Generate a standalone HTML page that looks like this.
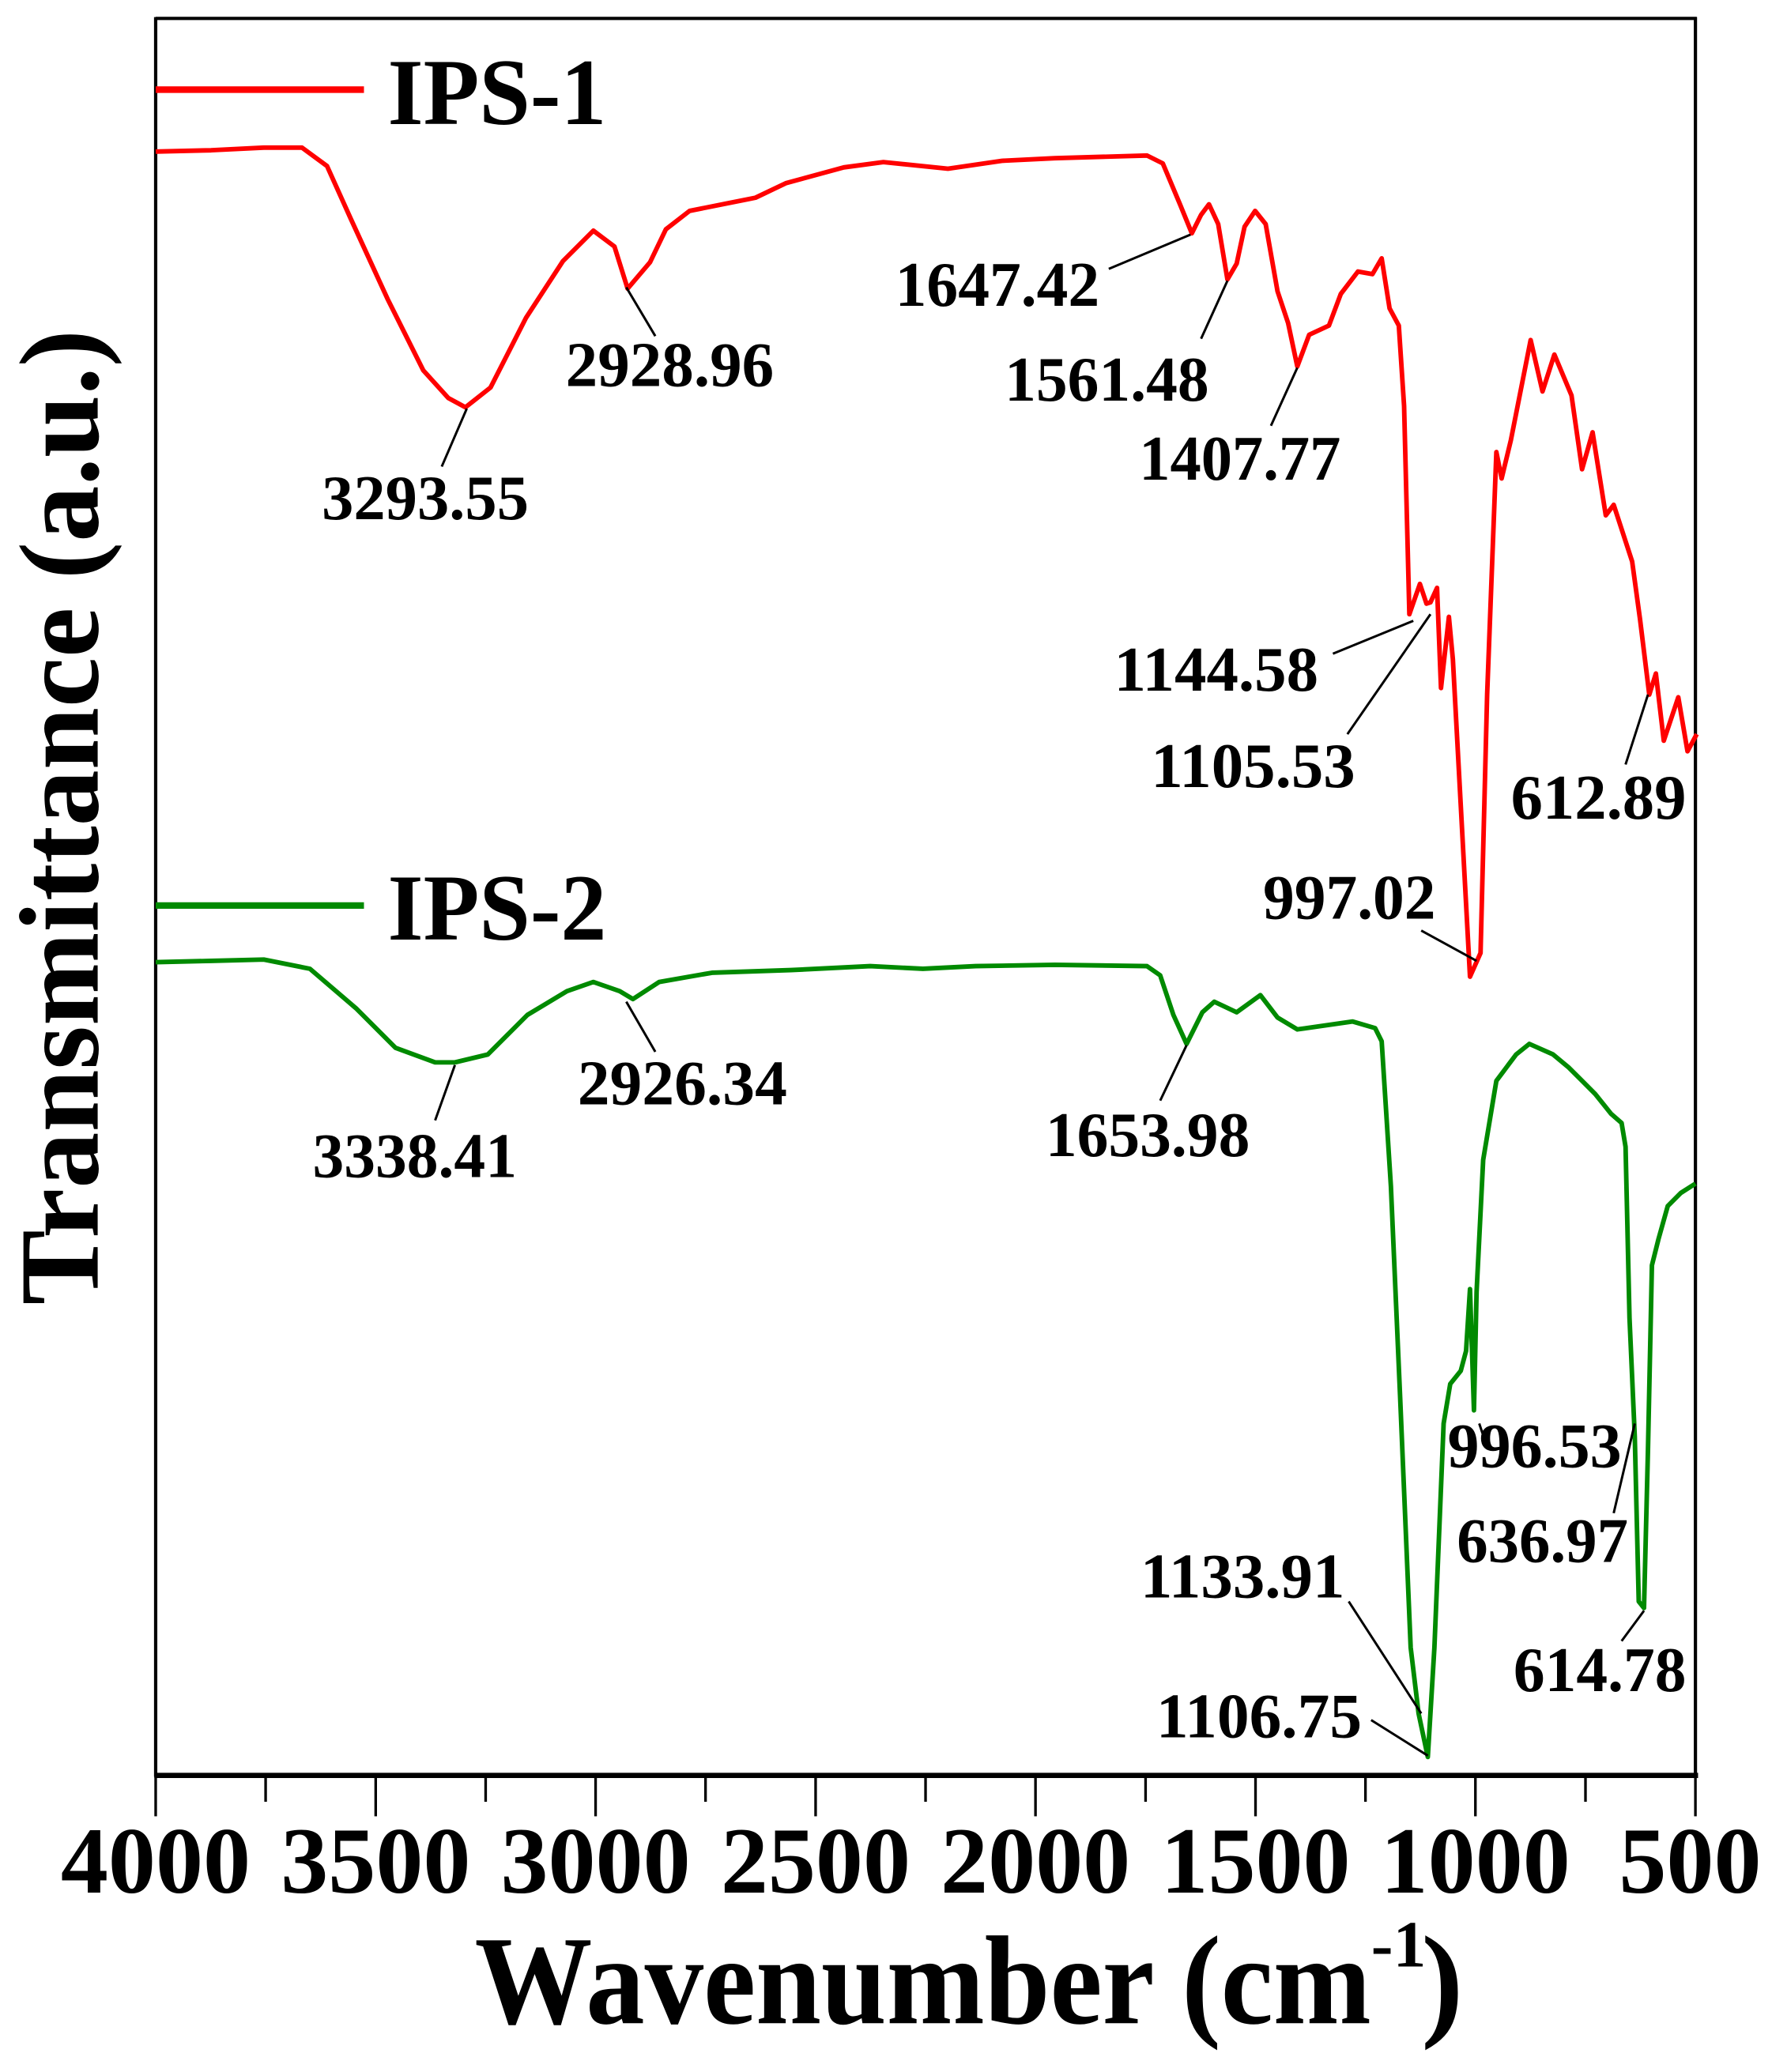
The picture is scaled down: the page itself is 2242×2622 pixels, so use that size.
<!DOCTYPE html>
<html><head><meta charset="utf-8"><style>html,body{margin:0;padding:0;background:#fff}svg{display:block}</style></head>
<body>
<svg width="2242" height="2622" viewBox="0 0 1344 1572" xmlns="http://www.w3.org/2000/svg" font-family="Liberation Serif, serif" font-weight="bold">
<rect width="1344" height="1572" fill="#fff"/>
<!-- axes -->
<line x1="118" y1="14" x2="1287" y2="14" stroke="#000" stroke-width="2.5"/>
<line x1="118" y1="13" x2="118" y2="1348" stroke="#000" stroke-width="2.5"/>
<line x1="1286" y1="13" x2="1286" y2="1348" stroke="#000" stroke-width="2.5"/>
<line x1="117" y1="1347" x2="1288" y2="1347" stroke="#000" stroke-width="4"/>
<g stroke="#000" stroke-width="2">
<line x1="118" y1="1347" x2="118" y2="1378"/><line x1="201.4" y1="1347" x2="201.4" y2="1367"/>
<line x1="284.9" y1="1347" x2="284.9" y2="1378"/><line x1="368.3" y1="1347" x2="368.3" y2="1367"/>
<line x1="451.7" y1="1347" x2="451.7" y2="1378"/><line x1="535.1" y1="1347" x2="535.1" y2="1367"/>
<line x1="618.6" y1="1347" x2="618.6" y2="1378"/><line x1="702" y1="1347" x2="702" y2="1367"/>
<line x1="785.4" y1="1347" x2="785.4" y2="1378"/><line x1="868.9" y1="1347" x2="868.9" y2="1367"/>
<line x1="952.3" y1="1347" x2="952.3" y2="1378"/><line x1="1035.7" y1="1347" x2="1035.7" y2="1367"/>
<line x1="1119.1" y1="1347" x2="1119.1" y2="1378"/><line x1="1202.6" y1="1347" x2="1202.6" y2="1367"/>
<line x1="1286" y1="1347" x2="1286" y2="1378"/>
</g>
<g font-size="72" text-anchor="middle">
<text x="118" y="1436">4000</text><text x="284.9" y="1436">3500</text><text x="451.7" y="1436">3000</text>
<text x="618.6" y="1436">2500</text><text x="785.4" y="1436">2000</text><text x="952.3" y="1436">1500</text>
<text x="1119.1" y="1436">1000</text><text x="1282" y="1436">500</text>
</g>
<text x="360" y="1535" font-size="96" textLength="680" lengthAdjust="spacingAndGlyphs">Wavenumber (cm</text>
<text x="1040" y="1492" font-size="50">-1</text>
<text x="1078" y="1535" font-size="96">)</text>
<text transform="translate(74,990) rotate(-90)" font-size="86" textLength="740" lengthAdjust="spacingAndGlyphs">Transmittance (a.u.)</text>
<!-- legend -->
<line x1="118" y1="68" x2="276" y2="68" stroke="#ff0000" stroke-width="5"/>
<text x="294" y="94" font-size="72" textLength="166" lengthAdjust="spacingAndGlyphs">IPS-1</text>
<line x1="118" y1="687" x2="276" y2="687" stroke="#008a00" stroke-width="5"/>
<text x="294" y="713" font-size="72" textLength="166" lengthAdjust="spacingAndGlyphs">IPS-2</text>
<!-- red curve -->
<polyline fill="none" stroke="#ff0000" stroke-width="3.5" stroke-linejoin="round" points="118,115 160,114 200,112 229,112 248,126 266,166 294,227 321,281 340,302 353,309 372,294 399,241 427,198 450,175 466,187 476,219 493,199 505,174 523,160 573,150 596,139 640,127 670,123 719,128 760,122 800,120 870,118 882,124 895,155 904,177 911,163 917,155 924,170 931,212 938,200 944,172 952,160 960,170 969,221 977,245 984,278 993,254 1008,247 1017,223 1030,206 1041,208 1048,196 1054,234 1061,247 1065,308 1069,466 1077,443 1082,458 1085,457 1090,446 1093,522 1099,468 1102,500 1115,741 1123,723 1128,527 1135,343 1139,363 1146,334 1161,258 1170,297 1179,269 1192,300 1200,356 1208,328 1218,391 1224,383 1238,426 1244,470 1251,527 1256,511 1262,562 1273,529 1280,570 1287,557"/>
<!-- green curve -->
<polyline fill="none" stroke="#008a00" stroke-width="3.5" stroke-linejoin="round" points="118,730 160,729 200,728 235,735 270,765 300,795 330,806 345,806 370,800 400,770 430,752 450,745 470,752 480,758 500,745 540,738 600,736 660,733 700,735 740,733 800,732 870,733 880,740 890,770 900,792 912,768 921,760 938,768 956,755 969,772 984,781 1026,775 1043,780 1048,790 1055,900 1062,1060 1070,1250 1076,1300 1083,1333 1088,1250 1095,1080 1100,1050 1108,1040 1112,1025 1115,978 1118,1070 1120,980 1125,880 1135,820 1150,800 1160,792 1178,800 1190,810 1200,820 1210,830 1222,845 1230,852 1233,870 1236,1000 1240,1090 1243,1215 1247,1220 1250,1100 1253,960 1258,940 1265,915 1275,905 1286,898"/>
<!-- annotations -->
<g stroke="#000" stroke-width="1.8">
<line x1="335" y1="354" x2="354" y2="310"/><line x1="497" y1="255" x2="475" y2="218"/>
<line x1="841" y1="204" x2="903" y2="178"/><line x1="911" y1="257" x2="931" y2="213"/>
<line x1="964" y1="323" x2="984" y2="279"/><line x1="1011" y1="496" x2="1072" y2="471"/>
<line x1="1022" y1="557" x2="1085" y2="466"/><line x1="1078" y1="706" x2="1120" y2="729"/>
<line x1="1233" y1="580" x2="1250" y2="527"/>
<line x1="330" y1="850" x2="345" y2="808"/><line x1="497" y1="798" x2="475" y2="760"/>
<line x1="880" y1="835" x2="900" y2="793"/><line x1="1122" y1="1080" x2="1126" y2="1092"/>
<line x1="1224" y1="1148" x2="1240" y2="1080"/><line x1="1023" y1="1215" x2="1078" y2="1300"/>
<line x1="1040" y1="1305" x2="1083" y2="1332"/><line x1="1230" y1="1245" x2="1247" y2="1222"/>
</g>
<g font-size="48">
<text x="244" y="394" textLength="157" lengthAdjust="spacingAndGlyphs">3293.55</text>
<text x="429" y="293" textLength="158" lengthAdjust="spacingAndGlyphs">2928.96</text>
<text x="679" y="232" textLength="155" lengthAdjust="spacingAndGlyphs">1647.42</text>
<text x="762" y="304" textLength="155" lengthAdjust="spacingAndGlyphs">1561.48</text>
<text x="864" y="364" textLength="153" lengthAdjust="spacingAndGlyphs">1407.77</text>
<text x="845" y="524" textLength="155" lengthAdjust="spacingAndGlyphs">1144.58</text>
<text x="873" y="597" textLength="155" lengthAdjust="spacingAndGlyphs">1105.53</text>
<text x="958" y="697" textLength="131" lengthAdjust="spacingAndGlyphs">997.02</text>
<text x="1146" y="621" textLength="133" lengthAdjust="spacingAndGlyphs">612.89</text>
<text x="237" y="893" textLength="155" lengthAdjust="spacingAndGlyphs">3338.41</text>
<text x="438" y="838" textLength="159" lengthAdjust="spacingAndGlyphs">2926.34</text>
<text x="793" y="877" textLength="155" lengthAdjust="spacingAndGlyphs">1653.98</text>
<text x="1098" y="1113" textLength="132" lengthAdjust="spacingAndGlyphs">996.53</text>
<text x="1105" y="1185" textLength="130" lengthAdjust="spacingAndGlyphs">636.97</text>
<text x="865" y="1212" textLength="155" lengthAdjust="spacingAndGlyphs">1133.91</text>
<text x="877" y="1318" textLength="156" lengthAdjust="spacingAndGlyphs">1106.75</text>
<text x="1148" y="1283" textLength="131" lengthAdjust="spacingAndGlyphs">614.78</text>
</g>
</svg>
</body></html>
